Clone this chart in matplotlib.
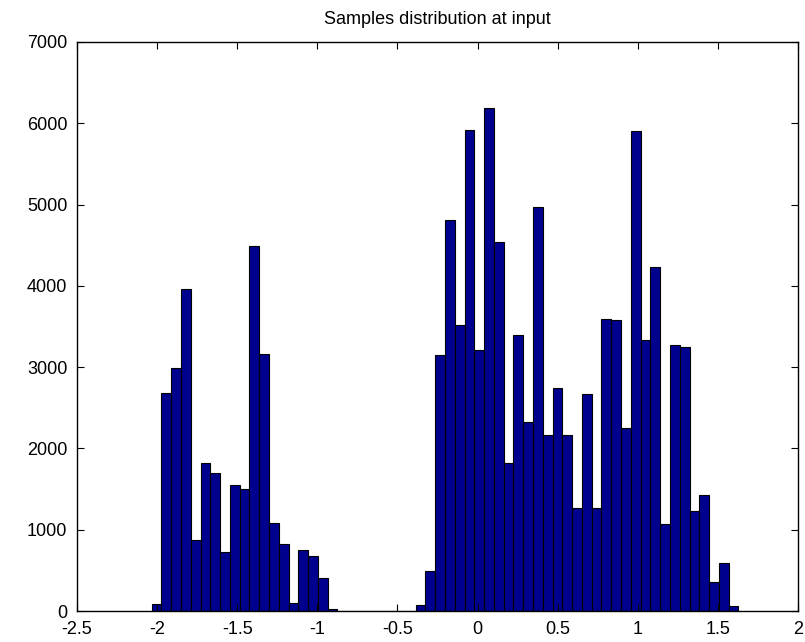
import numpy as np
import matplotlib
matplotlib.use("Agg")
import matplotlib.pyplot as plt

# Histogram data (60 equal bins between data min and max)
bin_min = -2.034
bin_max = 1.628
counts = [
    80, 2680, 2985, 3965, 875, 1825, 1700, 720, 1550, 1495,
    4495, 3165, 1080, 820, 100, 755, 678, 410, 20, 0,
    0, 0, 0, 0, 0, 0, 0, 79, 491, 3145,
    4816, 3513, 5921, 3206, 6184, 4535, 1820, 3390, 2329, 4965,
    2167, 2741, 2167, 1272, 2675, 1272, 3596, 3575, 2250, 5899,
    3329, 4232, 1066, 3268, 3250, 1228, 1430, 351, 592, 66,
]
title = "Samples distribution at input"
xtick_vals = [-2.5, -2, -1.5, -1, -0.5, 0, 0.5, 1, 1.5, 2]
xtick_labels = ["-2.5", "-2", "-1.5", "-1", "-0.5", "0", "0.5", "1", "1.5", "2"]
ytick_vals = [0, 1000, 2000, 3000, 4000, 5000, 6000, 7000]
ytick_labels = ["0", "1000", "2000", "3000", "4000", "5000", "6000", "7000"]

plt.rcParams["font.family"] = ["Liberation Sans", "DejaVu Sans"]

fig = plt.figure(figsize=(8.05, 6.42), dpi=100)
fig.patch.set_facecolor("white")
ax = fig.add_axes([77 / 805, 31 / 642, 721 / 805, 569 / 642])

edges = np.linspace(bin_min, bin_max, len(counts) + 1)
ax.bar(edges[:-1], counts, width=np.diff(edges), align="edge",
       color="#00008F", edgecolor="black", linewidth=0.8)

ax.set_xlim(-2.5, 2)
ax.set_ylim(0, 7000)
ax.set_xticks(xtick_vals)
ax.set_xticklabels(xtick_labels)
ax.set_yticks(ytick_vals)
ax.set_yticklabels(ytick_labels)
ax.tick_params(direction="in", length=5, width=0.8, top=True, right=True,
               labelsize=13, colors="black")
ax.tick_params(axis="y", pad=7)
ax.tick_params(axis="x", pad=7)
for s in ax.spines.values():
    s.set_linewidth(1.0)
    s.set_color("black")
ax.set_title(title, fontsize=13, pad=13)

fig.savefig("out.png", dpi=100, facecolor="white")
